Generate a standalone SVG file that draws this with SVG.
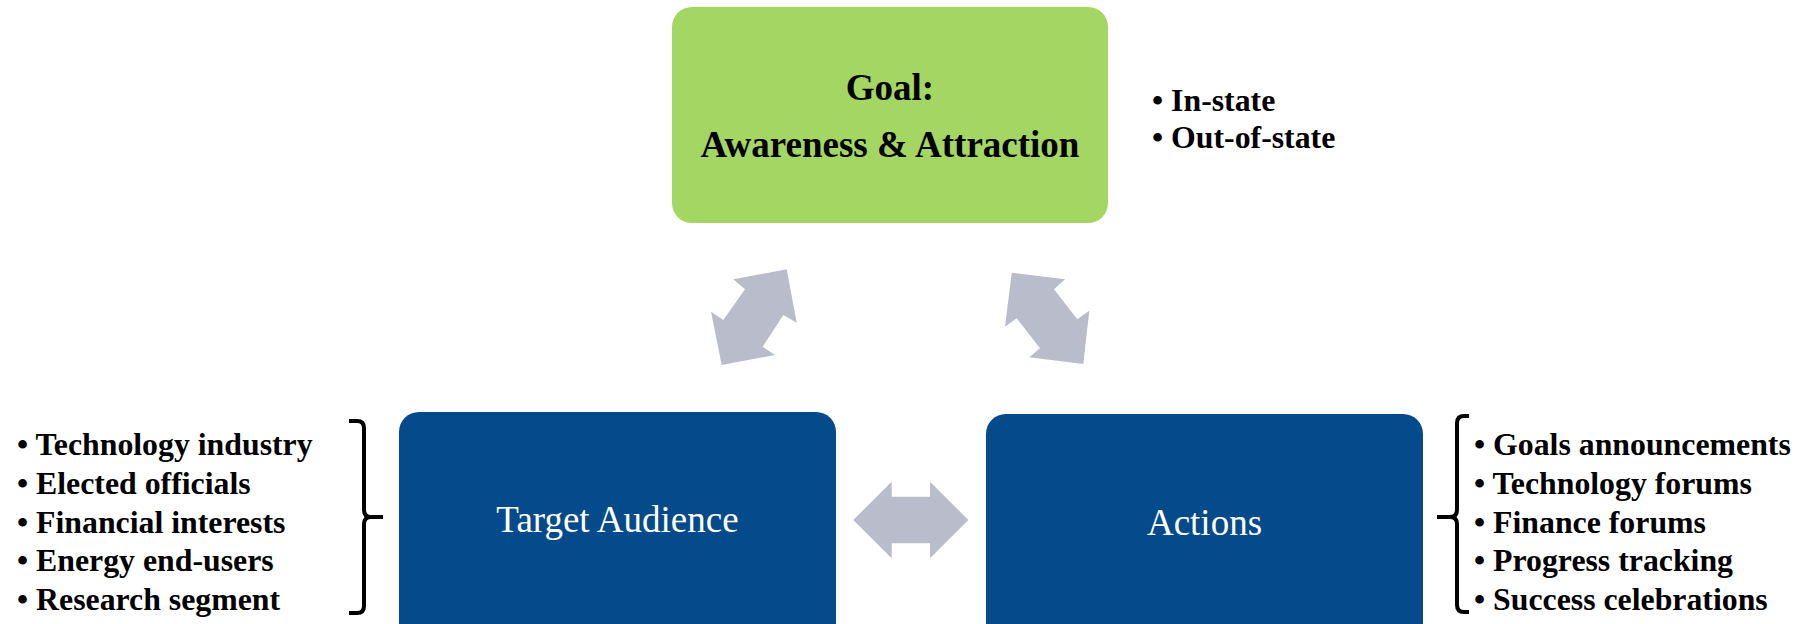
<svg xmlns="http://www.w3.org/2000/svg" width="1810" height="624" viewBox="0 0 1810 624">
<style>
.goal{fill:#a3d662}
.blue{fill:#054a8a}
.title{font-family:"Liberation Serif","Times New Roman",serif;font-weight:bold;font-size:37px;fill:#000;text-anchor:middle}
.label{font-family:"Liberation Serif","Times New Roman",serif;font-size:37px;fill:#fff;text-anchor:middle}
.list{font-family:"Liberation Serif","Times New Roman",serif;font-weight:bold;font-size:31.8px;fill:#000}
.arrow{fill:#b8bccb}
.brace{fill:none;stroke:#000;stroke-width:4;stroke-linejoin:round;stroke-linecap:butt}
</style>
<rect width="1810" height="624" fill="#fff"/>
<g id="goal">
<rect class="goal" x="672" y="7" width="436" height="216" rx="20"/>
<text class="title" x="890" y="100">Goal:</text>
<text class="title" x="890" y="157">Awareness &amp; Attraction</text>
</g>
<g id="goal-list">
<text class="list" x="1152" y="111">• In-state</text>
<text class="list" x="1152" y="148">• Out-of-state</text>
</g>
<g id="target-audience">
<rect class="blue" x="399" y="412" width="437" height="232" rx="20"/>
<text class="label" x="617.5" y="532">Target Audience</text>
</g>
<g id="audience-list">
<text class="list" x="17" y="455">• Technology industry</text>
<text class="list" x="17" y="494">• Elected officials</text>
<text class="list" x="17" y="532.5">• Financial interests</text>
<text class="list" x="17" y="571">• Energy end-users</text>
<text class="list" x="17" y="610">• Research segment</text>
<path class="brace" d="M349,421 H357 Q364,421 364,428 V510 Q364,517 371,517 H383 M371,517 Q364,517 364,524 V606 Q364,613 357,613 H349"/>
</g>
<g id="actions">
<rect class="blue" x="986" y="414" width="437" height="230" rx="20"/>
<text class="label" x="1204.5" y="535">Actions</text>
</g>
<g id="actions-list">
<path class="brace" d="M1469,416 H1464 Q1457,416 1457,423 V510 Q1457,517 1450,517 H1437 M1450,517 Q1457,517 1457,524 V605 Q1457,612 1464,612 H1469"/>
<text class="list" x="1474" y="455">• Goals announcements</text>
<text class="list" x="1474" y="494">• Technology forums</text>
<text class="list" x="1474" y="532.5">• Finance forums</text>
<text class="list" x="1474" y="571">• Progress tracking</text>
<text class="list" x="1474" y="610">• Success celebrations</text>
</g>
<g id="connectors">
<polygon class="arrow" points="786.7,269.3 796.7,322.7 783.3,315 762.7,346.7 775,355 721.7,365 711,311.7 723.3,320 745,289.3 733.3,279.3"/>
<polygon class="arrow" points="1011.7,272.7 1065,279.3 1054,289.3 1077.3,319.3 1089.3,310.7 1083.3,364 1029.3,357.3 1040,348.3 1016.7,318.3 1005,326.7"/>
<polygon class="arrow" points="853.3,520 891.7,481.7 891.7,496.7 930,496.7 930,481.7 968.3,520 930,558.3 930,543.3 891.7,543.3 891.7,558.3"/>
</g>
</svg>
